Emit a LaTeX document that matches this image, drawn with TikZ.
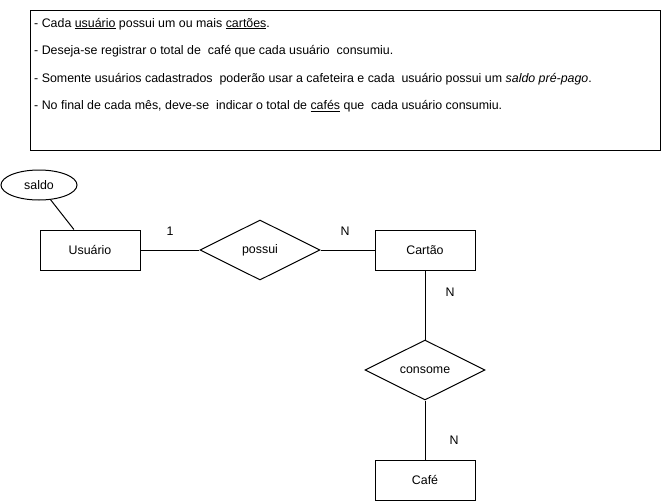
\documentclass[tikz,border=0pt]{standalone}
\usepackage{fontspec}
\setmainfont{Liberation Sans}
\usetikzlibrary{shapes.geometric}
\begin{document}
\begin{tikzpicture}[x=1pt,y=-1pt,
  every node/.style={font=\fontsize{12.4}{14}\selectfont},
  entity/.style={draw,line width=1pt,rectangle,minimum width=100pt,minimum height=40pt,inner sep=0pt},
  relation/.style={draw,line width=1pt,diamond,minimum width=120pt,minimum height=60pt,inner sep=0pt},
  attr/.style={draw,line width=1pt,ellipse,minimum width=76pt,minimum height=30pt,inner sep=0pt},
  conn/.style={line width=1pt},
  card/.style={inner sep=0pt},
  noteline/.style={anchor=base west,inner sep=0pt}]
\useasboundingbox (0,0) rectangle (661,501);
\node[draw,line width=1pt,rectangle,minimum width=630pt,minimum height=140pt,inner sep=0pt] (textbox) at (345,80) {};
\node[noteline] (l1) at (34,27) {- Cada \underline{usuário} possui um ou mais \underline{cartões}.};
\node[noteline] (l2) at (34,54.5) {- Deseja-se registrar o total de\ \ café que cada usuário\ \ consumiu.};
\node[noteline] (l3) at (34,82) {- Somente usuários cadastrados\ \ poderão usar a cafeteira e cada\ \ usuário possui um \textit{saldo pré-pago}.};
\node[noteline] (l4) at (34,109.5) {- No final de cada mês, deve-se\ \ indicar o total de \underline{cafés} que\ \ cada usuário consumiu.};
\node[entity] (usuario) at (90,250) {Usuário};
\node[relation] (possui) at (260,250) {possui};
\node[entity] (cartao) at (425,250) {Cartão};
\node[relation] (consome) at (425,370) {consome};
\node[entity] (cafe) at (425,480) {Café};
\node[attr] (saldo) at (39,185) {saldo};
\draw[conn] (saldo) -- (usuario);
\draw[conn] (usuario) -- (possui);
\draw[conn] (possui) -- (cartao);
\draw[conn] (cartao) -- (consome);
\draw[conn] (consome) -- (cafe);
\node[card] (c1) at (170,231) {1};
\node[card] (c2) at (345,231) {N};
\node[card] (c3) at (450,292) {N};
\node[card] (c4) at (454,440) {N};
\end{tikzpicture}
\end{document}
